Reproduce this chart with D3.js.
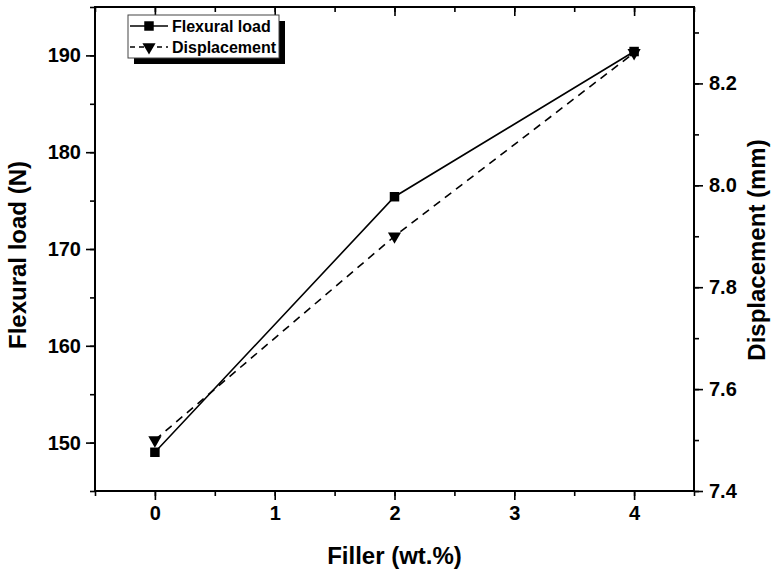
<!DOCTYPE html>
<html><head><meta charset="utf-8">
<script src="https://cdn.jsdelivr.net/npm/d3@7"></script>
<style>body{margin:0;background:#fff}</style></head>
<body><svg id="c" width="778" height="575"></svg>
<script>
const filler = [0, 2, 4];
const flexuralLoad = [149.0, 175.4, 190.4];
const displacement = [7.50, 7.90, 8.26];
const xTicks = [0, 1, 2, 3, 4];
const yLeftTicks = [150, 160, 170, 180, 190];
const yRightTicks = [7.4, 7.6, 7.8, 8.0, 8.2];

const svg = d3.select("#c");
const L = 95, R = 694, T = 7, B = 491;
const x = d3.scaleLinear().domain([-0.5, 4.5]).range([L, R]);
const yL = d3.scaleLinear().domain([145, 195]).range([B, T]);
const yR = d3.scaleLinear().domain([7.4, 8.35]).range([B, T]);
const font = "Arial, 'Liberation Sans', sans-serif";

function styleAxis(g){
  g.select(".domain").remove();
  g.selectAll("line").attr("stroke","#000").attr("stroke-width",1.6);
  g.selectAll("text").attr("font-family",font).attr("font-weight","bold").attr("font-size",20).attr("fill","#000");
}
const xMinor = d3.range(-0.5, 4.51, 0.5);
const yLMinor = d3.range(145, 195.1, 5);
const yRMinor = d3.range(7.4, 8.351, 0.1);

svg.append("g").attr("transform",`translate(0,${B})`)
  .call(d3.axisBottom(x).tickValues(xMinor).tickSize(5).tickFormat(""))
  .call(styleAxis);
svg.append("g").attr("transform",`translate(0,${B})`)
  .call(d3.axisBottom(x).tickValues(xTicks).tickSize(9).tickPadding(6).tickFormat(d3.format("d")))
  .call(styleAxis);
svg.append("g").attr("transform",`translate(0,${T})`)
  .call(d3.axisBottom(x).tickValues(xMinor).tickSize(5).tickFormat(""))
  .call(styleAxis);
svg.append("g").attr("transform",`translate(0,${T})`)
  .call(d3.axisBottom(x).tickValues(xTicks).tickSize(9).tickFormat(""))
  .call(styleAxis);
svg.append("g").attr("transform",`translate(${L},0)`)
  .call(d3.axisLeft(yL).tickValues(yLMinor).tickSize(5).tickFormat(""))
  .call(styleAxis);
svg.append("g").attr("transform",`translate(${L},0)`)
  .call(d3.axisLeft(yL).tickValues(yLeftTicks).tickSize(9).tickPadding(5).tickFormat(d3.format("d")))
  .call(styleAxis);
svg.append("g").attr("transform",`translate(${R},0)`)
  .call(d3.axisRight(yR).tickValues(yRMinor).tickSize(5).tickFormat(""))
  .call(styleAxis);
svg.append("g").attr("transform",`translate(${R},0)`)
  .call(d3.axisRight(yR).tickValues(yRightTicks).tickSize(9).tickPadding(6).tickFormat(d3.format(".1f")))
  .call(styleAxis);

svg.append("rect").attr("x",L).attr("y",T).attr("width",R-L).attr("height",B-T)
  .attr("fill","none").attr("stroke","#000").attr("stroke-width",2);

const lineL = d3.line().x((d,i)=>x(filler[i])).y(d=>yL(d));
const lineR = d3.line().x((d,i)=>x(filler[i])).y(d=>yR(d));
svg.append("path").attr("d",lineL(flexuralLoad)).attr("fill","none").attr("stroke","#000").attr("stroke-width",1.6);
svg.append("path").attr("d",lineR(displacement)).attr("fill","none").attr("stroke","#000").attr("stroke-width",1.6).attr("stroke-dasharray","8,6");

const sq = d3.symbol().type(d3.symbolSquare).size(90);
const tri = d3.symbol().type(d3.symbolTriangle).size(75);
svg.selectAll(".sq").data(flexuralLoad).join("path")
  .attr("d",sq).attr("transform",(d,i)=>`translate(${x(filler[i])},${yL(d)})`).attr("fill","#000");
svg.selectAll(".tri").data(displacement).join("path")
  .attr("d",tri).attr("transform",(d,i)=>`translate(${x(filler[i])},${yR(d)}) rotate(180)`).attr("fill","#000");

const lg = svg.append("g");
lg.append("rect").attr("x",134).attr("y",21).attr("width",151).attr("height",43).attr("fill","#000");
lg.append("rect").attr("x",128).attr("y",15).attr("width",151).attr("height",43).attr("fill","#fff").attr("stroke","#444").attr("stroke-width",1);
const items = [{name:"Flexural load", dash:null, sym:sq, rot:0},{name:"Displacement", dash:"5,4", sym:tri, rot:180}];
items.forEach((it,i)=>{
  const yy = 26 + i*21;
  lg.append("line").attr("x1",130).attr("x2",168).attr("y1",yy).attr("y2",yy).attr("stroke","#000").attr("stroke-width",1.5)
    .attr("stroke-dasharray", it.dash);
  lg.append("path").attr("d",it.sym).attr("transform",`translate(149,${yy}) rotate(${it.rot})`).attr("fill","#000");
  lg.append("text").attr("x",172).attr("y",yy+6).text(it.name)
    .attr("font-family",font).attr("font-weight","bold").attr("font-size",16);
});

svg.append("text").attr("x",(L+R)/2).attr("y",564).attr("text-anchor","middle").text("Filler (wt.%)")
  .attr("font-family",font).attr("font-weight","bold").attr("font-size",24);
svg.append("text").attr("transform",`translate(26,255) rotate(-90)`).attr("text-anchor","middle").text("Flexural load (N)")
  .attr("font-family",font).attr("font-weight","bold").attr("font-size",24);
svg.append("text").attr("transform",`translate(765,250) rotate(-90)`).attr("text-anchor","middle").text("Displacement (mm)")
  .attr("font-family",font).attr("font-weight","bold").attr("font-size",24);
</script></body></html>
